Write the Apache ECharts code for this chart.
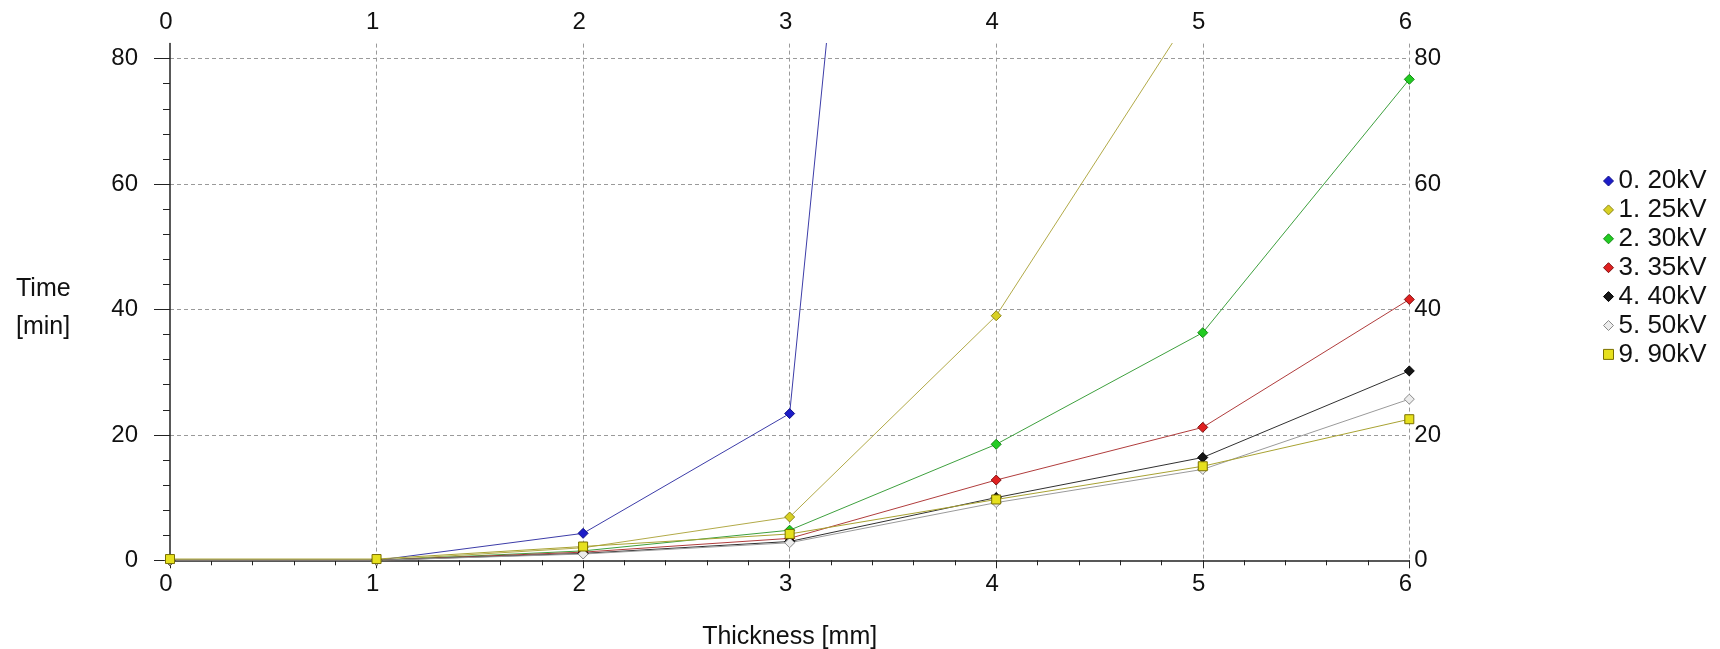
<!DOCTYPE html>
<html>
<head>
<meta charset="utf-8">
<script src="https://cdn.jsdelivr.net/npm/echarts@6/dist/echarts.min.js"></script>
<style>
  html, body { margin: 0; padding: 0; background: #fff; }
  #main { width: 1720px; height: 649px; }
</style>
</head>
<body>
<div id="main"></div>
<script>
var thickness = [0, 1, 2, 3, 4, 5, 6];
var xTicks = [0, 1, 2, 3, 4, 5, 6];
var yTicks = [0, 20, 40, 60, 80];

var names = ['0. 20kV', '1. 25kV', '2. 30kV', '3. 35kV', '4. 40kV', '5. 50kV', '9. 90kV'];
var kv20 = [0, 0, 4.3, 23.4, 355];
var kv25 = [0, 0, 2.0, 6.9, 39.0, 90];
var kv30 = [0, 0, 1.5, 4.8, 18.5, 36.3, 76.7];
var kv35 = [0, 0, 1.3, 3.5, 12.8, 21.2, 41.6];
var kv40 = [0, 0, 1.1, 3.0, 10.0, 16.4, 30.2];
var kv50 = [0, 0, 1.0, 2.8, 9.2, 14.5, 25.7];
var kv90 = [0.2, 0.2, 2.2, 4.2, 9.7, 15.0, 22.5];

var values = [kv20, kv25, kv30, kv35, kv40, kv50, kv90];
var lineColors = ['#3c3ca8', '#b2aa48', '#3ea03e', '#b03c3c', '#303030', '#9a9a9a', '#a8a232'];
var fillColors = ['#1c1cc8', '#d8d024', '#22cc22', '#e02020', '#151515', '#ececec', '#e6e01e'];
var borderColors = ['#12128a', '#8a8414', '#128812', '#801010', '#000000', '#8a8a8a', '#7a7000'];
var symbols = ['diamond', 'diamond', 'diamond', 'diamond', 'diamond', 'diamond', 'rect'];

var font = "'Liberation Sans', Arial, sans-serif";
var myChart = echarts.init(document.getElementById('main'));

var series = values.map(function(vals, i) {
  return {
    name: names[i],
    type: 'line',
    data: vals.map(function(v, j) { return [thickness[j], v]; }),
    symbol: symbols[i],
    symbolSize: symbols[i] === 'rect' ? 9 : 10,
    showSymbol: true,
    clip: true,
    animation: false,
    lineStyle: { color: lineColors[i], width: 1 },
    itemStyle: { color: fillColors[i], borderColor: borderColors[i], borderWidth: 1, opacity: 1 },
    emphasis: { disabled: true }
  };
});

var gridLine = { show: true, lineStyle: { color: '#9a9a9a', width: 1, type: [4, 3] } };

var option = {
  animation: false,
  textStyle: { fontFamily: font },
  title: {
    text: 'Time\n[min]',
    left: 16,
    top: 270,
    padding: 0,
    textStyle: { fontFamily: font, fontSize: 25, fontWeight: 'normal', color: '#111', lineHeight: 38 }
  },
  legend: {
    orient: 'vertical',
    left: 1603,
    top: 168,
    padding: 0,
    itemWidth: 10,
    itemHeight: 10,
    itemGap: 2.9,
    textStyle: { fontFamily: font, fontSize: 26, color: '#111', lineHeight: 25 },
    data: names.map(function(n, i) {
      return {
        name: n,
        icon: symbols[i],
        itemStyle: { color: fillColors[i], borderColor: borderColors[i], borderWidth: 1 }
      };
    })
  },
  grid: { left: 170, right: 310.7, top: 43.6, bottom: 88.7, outerBoundsMode: 'none', containLabel: false },
  xAxis: [{
    type: 'value',
    position: 'bottom',
    min: 0,
    max: 6,
    interval: 1,
    name: 'Thickness [mm]',
    nameLocation: 'middle',
    nameGap: 64,
    nameTextStyle: { fontFamily: font, fontSize: 25, color: '#111' },
    axisLine: { show: true, onZero: false, lineStyle: { color: '#222', width: 1.5 } },
    axisTick: { show: true, length: 8, lineStyle: { color: '#222' } },
    minorTick: { show: true, splitNumber: 5, length: 5, lineStyle: { color: '#222' } },
    axisLabel: { margin: 12, padding: [0, 8, 0, 0], fontFamily: font, fontSize: 24, color: '#111', customValues: xTicks },
    splitLine: Object.assign({ showMinLine: false }, gridLine)
  }, {
    type: 'value',
    position: 'top',
    min: 0,
    max: 6,
    interval: 1,
    axisLine: { show: false },
    axisTick: { show: false },
    axisLabel: { margin: 9, padding: [0, 8, 0, 0], fontFamily: font, fontSize: 24, color: '#111', customValues: xTicks },
    splitLine: { show: false }
  }],
  yAxis: [{
    type: 'value',
    position: 'left',
    min: 0,
    max: 82.4,
    interval: 20,
    axisLine: { show: true, onZero: false, lineStyle: { color: '#222', width: 1.5 } },
    axisTick: { show: true, length: 16, lineStyle: { color: '#222' }, customValues: yTicks },
    minorTick: { show: true, splitNumber: 5, length: 7, lineStyle: { color: '#222' } },
    axisLabel: { margin: 32, fontFamily: font, fontSize: 24, color: '#111', customValues: yTicks },
    splitLine: Object.assign({ showMinLine: false }, gridLine)
  }, {
    type: 'value',
    position: 'right',
    min: 0,
    max: 82.4,
    interval: 20,
    axisLine: { show: false },
    axisTick: { show: false },
    axisLabel: { margin: 5, fontFamily: font, fontSize: 24, color: '#111', customValues: yTicks },
    splitLine: { show: false }
  }],
  series: series
};

myChart.setOption(option);
</script>
</body>
</html>
